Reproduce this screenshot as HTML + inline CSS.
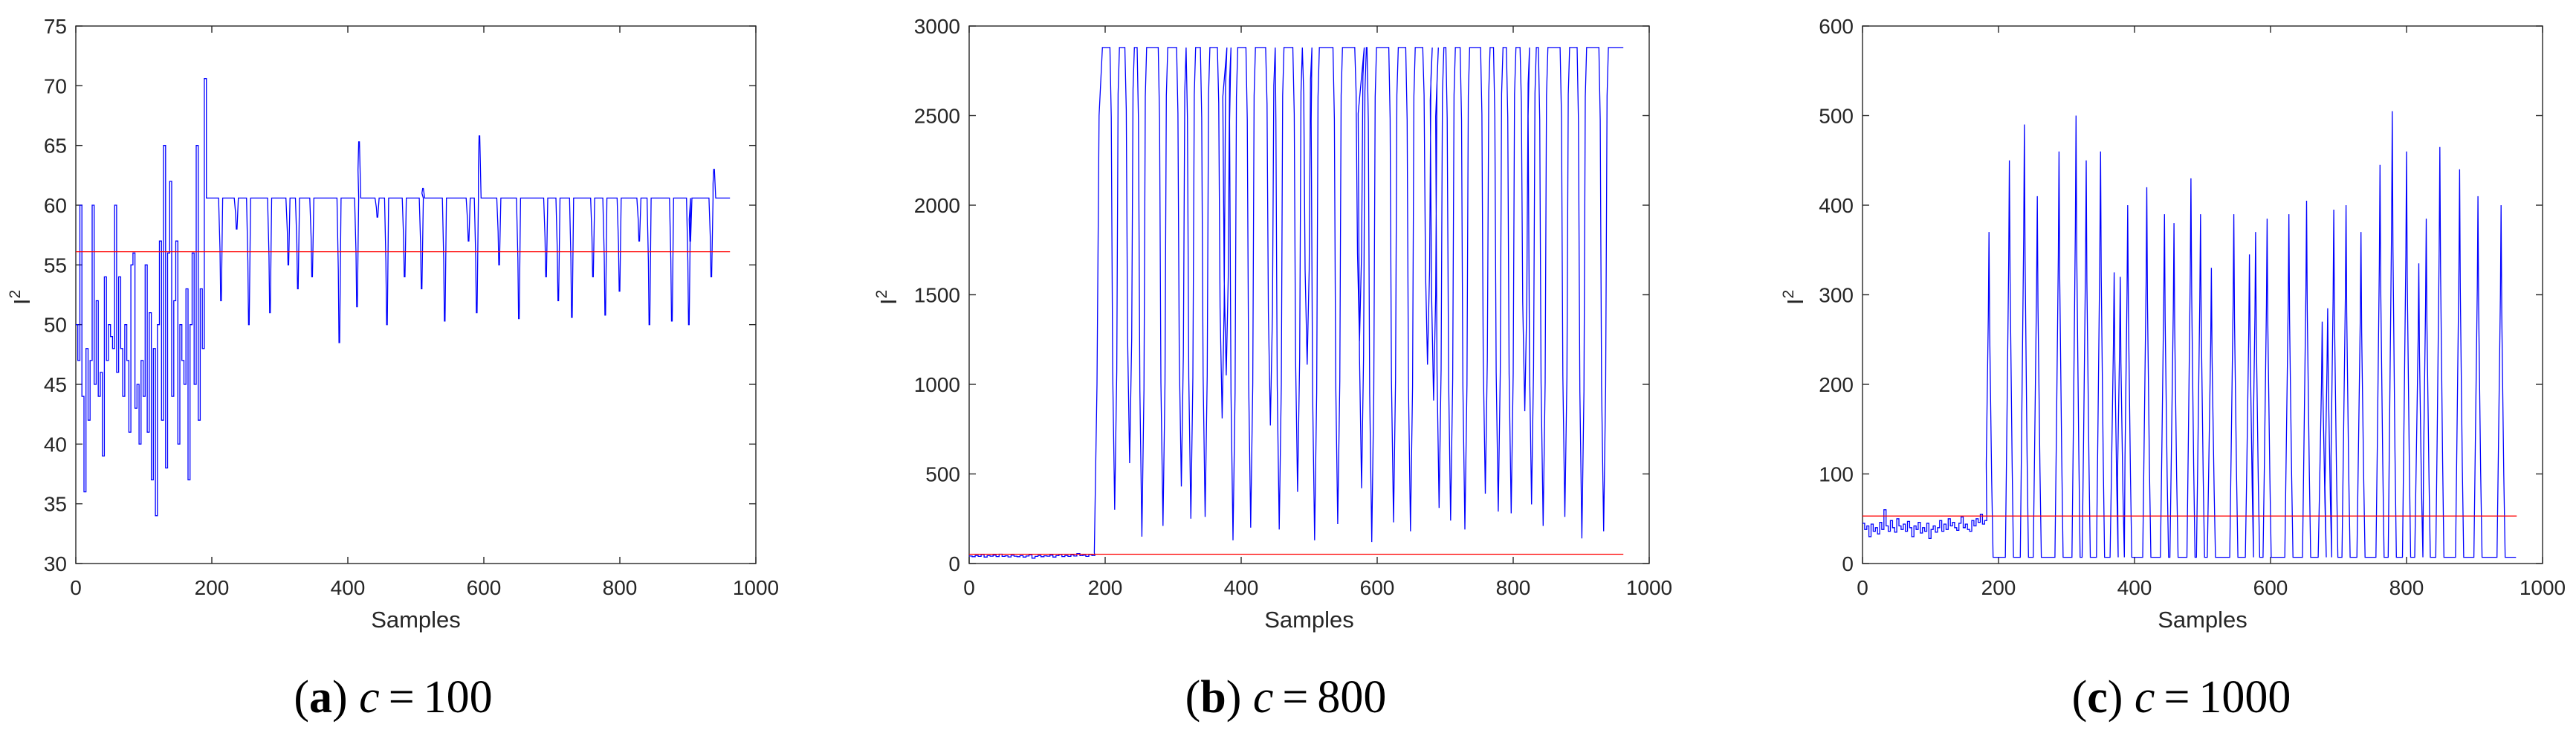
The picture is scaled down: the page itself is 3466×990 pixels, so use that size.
<!DOCTYPE html>
<html><head><meta charset="utf-8"><style>
html,body{margin:0;padding:0;background:#fff;}
svg{display:block;}
.tick{font-family:"Liberation Sans",sans-serif;font-size:28px;fill:#262626;}
.lab{font-family:"Liberation Sans",sans-serif;font-size:31px;fill:#262626;}
.cap{font-family:"Liberation Serif",serif;font-size:62px;fill:#000;}
</style></head><body>
<svg id="root" width="3466" height="990" viewBox="0 0 3466 990" xmlns="http://www.w3.org/2000/svg"></svg>
<script>
// ---- Panel (a) c=100 ----
const aNoise = [50,47,60,44,36,48,42,47,60,45,52,44,46,39,54,47,50,49,48,60,46,54,48,44,50,47,41,55,56,43,45,40,47,44,55,41,51,37,48,34,50,57,42,65,38,56,62,44,52,57,40,50,47,45,53,37,50,56,45,65,42,53,48,70.6];
const aPlateau = 60.6;
const aDipX = [213,236,254,285,312,326,347,387,413,416,443,457,483,508,510,542,577,589,593,622,651,691,709,729,760,778,799,828,843,876,901,903,934,938];
const aDipY = [52,58,50,51,55,53,54,48.5,51.5,65.3,59,50,54,53,61.4,50.3,57,51,65.8,55,50.5,54,52,50.6,54,50.8,52.8,57,50,50.3,50,57,54,63];
const aThreshold = 56.1;
const aYTicks = [30,35,40,45,50,55,60,65,70,75];
// ---- Panel (b) c=800 ----
const bNoise = [42,38,45,40,50,36,44,41,47,39,52,40,43,37,46,41,38,44,36,42,48,30,40,45,38,43,41,47,36,44,50,39,45,40,48,42,55,44,46,40,50,45];
const bPlateau = 2880;
const bDipX = [214,236,254,285,312,326,347,372,378,388,414,443,456,483,497,508,542,574,577,592,624,649,674,683,691,708,729,759,778,797,817,827,844,876,901,933];
const bDipY = [300,560,150,210,430,250,260,810,1050,130,200,770,190,400,1110,130,220,1240,420,120,230,180,1110,910,310,240,190,390,290,280,850,330,210,260,140,180];
const bThreshold = 52;
const bYTicks = [0,500,1000,1500,2000,2500,3000];
// ---- Panel (c) c=1000 ----
const cNoise = [45,38,42,30,44,36,40,33,46,38,60,42,36,48,40,35,50,42,38,44,36,47,40,30,42,38,46,34,40,36,45,28,38,42,35,40,48,36,44,38,50,42,46,40,37,45,52,40,44,38,36,48,42,50,46,55,44,48];
const cBase = 7;
const cPeakX = [186,216,238,257,289,314,329,350,370,379,390,418,444,458,483,497,513,546,569,578,595,627,653,676,684,693,711,733,761,779,800,818,829,849,878,905,939];
const cPeakY = [370,450,490,410,460,500,450,460,325,320,400,420,390,380,430,390,330,390,345,370,385,390,405,270,285,395,400,370,445,505,460,335,385,465,440,410,400];
const cThreshold = 53;
const cYTicks = [0,100,200,300,400,500,600];
const xTicks = [0,200,400,600,800,1000];
const xTickLabels = ["0","200","400","600","800","1000"];
const captions = [["a","100"],["b","800"],["c","1000"]];

const NS="http://www.w3.org/2000/svg";
const root=document.getElementById('root');
function mk(tag,attrs,parent){const e=document.createElementNS(NS,tag);for(const k in attrs)e.setAttribute(k,attrs[k]);(parent||root).appendChild(e);return e;}

const TOP=35,BOT=758,W=915;
function buildA(){const p=[];aNoise.forEach((v,i)=>{p.push([i*3,v]);p.push([i*3+3,v]);});
  let x=192;p.push([x,aPlateau]);
  aDipX.forEach((dx,i)=>{if(dx-3>x)p.push([dx-3,aPlateau]);p.push([dx-1,(aPlateau+aDipY[i])/2]);p.push([dx,aDipY[i]]);p.push([dx+1,aDipY[i]]);p.push([dx+3,aPlateau]);x=dx+3;});
  p.push([962,aPlateau]);return p;}
function buildB(){const p=[];bNoise.forEach((v,i)=>{p.push([i*4.4,v]);p.push([i*4.4+4.4,v]);});
  p.push([184,60]);p.push([188,1000]);p.push([191,2500]);p.push([196,bPlateau]);let x=196;
  bDipX.forEach((dx,i)=>{const y=bDipY[i];if(dx-7>x)p.push([dx-7,bPlateau]);p.push([dx-5,bPlateau-(bPlateau-y)*0.15]);p.push([dx-3,bPlateau-(bPlateau-y)*0.7]);p.push([dx,y]);p.push([dx+3,y+(bPlateau-y)*0.3]);p.push([dx+5,bPlateau-(bPlateau-y)*0.1]);p.push([dx+7,bPlateau]);x=dx+7;});
  p.push([962,bPlateau]);return p;}
function buildC(){const p=[];cNoise.forEach((v,i)=>{p.push([i*3.15,v]);p.push([i*3.15+3.15,v]);});
  let x=183;
  cPeakX.forEach((px,i)=>{const y=cPeakY[i];if(px-6>x)p.push([px-6,cBase]);p.push([px-4,y*0.3]);p.push([px-1,y*0.75]);p.push([px,y]);p.push([px+1,y*0.7]);p.push([px+4,y*0.25]);p.push([px+6,cBase]);x=px+6;});
  p.push([961,cBase]);return p;}

function panel(id,left,ymin,ymax,yticks,pts,thr,capX,capIdx,ylabX){
  const g=mk('g',{});
  
  
  const sx=v=>left+v/1000*W, sy=v=>BOT-(v-ymin)/(ymax-ymin)*(BOT-TOP);
  const frame=mk('rect',{x:left,y:TOP,width:W,height:BOT-TOP,fill:'#fff',stroke:'#262626','stroke-width':1.4},g);
  
  
  xTicks.forEach((t,i)=>{const X=sx(t);
    mk('line',{x1:X,y1:BOT,x2:X,y2:BOT-9,stroke:'#262626','stroke-width':1.4},g);
    mk('line',{x1:X,y1:TOP,x2:X,y2:TOP+9,stroke:'#262626','stroke-width':1.4},g);
    const tx=mk('text',{x:X,y:800,'text-anchor':'middle',class:'tick'},g);tx.textContent=xTickLabels[i];
    
    });
  yticks.forEach(t=>{const Y=sy(t);
    mk('line',{x1:left,y1:Y,x2:left+9,y2:Y,stroke:'#262626','stroke-width':1.4},g);
    mk('line',{x1:left+W,y1:Y,x2:left+W-9,y2:Y,stroke:'#262626','stroke-width':1.4},g);
    const tx=mk('text',{x:left-12,y:Y+10,'text-anchor':'end',class:'tick'},g);tx.textContent=t;
    
    });
  const line=mk('polyline',{points:pts.map(p=>sx(p[0]).toFixed(1)+','+sy(p[1]).toFixed(1)).join(' '),fill:'none',stroke:'#0000ff','stroke-width':1.3,'stroke-linejoin':'miter'},g);
  
  
  const th=mk('line',{x1:sx(0),y1:sy(thr),x2:sx(962),y2:sy(thr),stroke:'#ff0000','stroke-width':1.3},g);
  
  
  const xl=mk('text',{x:left+W/2,y:844,'text-anchor':'middle',class:'lab'},g);xl.textContent='Samples';
  
  
  const yl=mk('text',{x:0,y:0,'text-anchor':'middle',class:'lab',transform:`translate(${ylabX},400) rotate(-90)`},g);
  yl.innerHTML='I<tspan dy="-13" font-size="21">2</tspan>';
  
  
  const cap=mk('text',{x:capX,y:958,'text-anchor':'middle',class:'cap','xml:space':'preserve'},g);
  cap.innerHTML='(<tspan font-weight="bold">'+captions[capIdx][0]+'</tspan>) <tspan font-style="italic">c</tspan><tspan dx="12">=</tspan><tspan dx="12">'+captions[capIdx][1]+'</tspan>';
  
  
}
panel('a',102,30,75,aYTicks,buildA(),aThreshold,529,0,40);
panel('b',1304,0,3000,bYTicks,buildB(),bThreshold,1730,1,1206);
panel('c',2506,0,600,cYTicks,buildC(),cThreshold,2935,2,2426);
</script>
</body></html>
